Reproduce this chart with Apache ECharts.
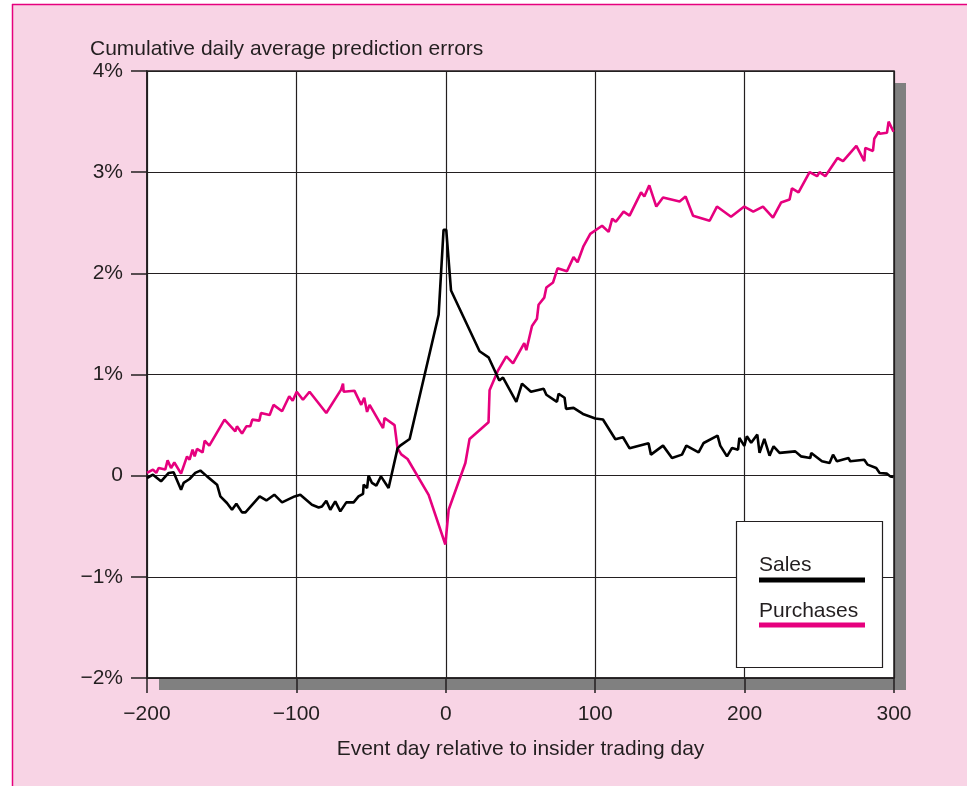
<!DOCTYPE html>
<html>
<head>
<meta charset="utf-8">
<script src="https://cdn.jsdelivr.net/npm/echarts@6/dist/echarts.min.js"></script>
<style>
html,body{margin:0;padding:0;background:#fff;}
#chart{width:967px;height:786px;}
</style>
</head>
<body>
<div id="chart"></div>
<script>
// ---- Data ----
const salesDays = [-200,-196,-190.6,-185.5,-182.2,-177.2,-175.5,-171.5,-167.7,-164.3,-159.8,-153.1,-150.9,-146.5,-143.1,-140.2,-136.4,-134.1,-124.6,-120.1,-114.8,-109.6,-101.2,-97.4,-89.6,-85.1,-82.9,-80,-77.3,-74,-70.6,-66.6,-61.7,-58.4,-55.4,-55,-52.7,-51.7,-49.4,-46.5,-43.4,-38.3,-32.3,-30.5,-24.2,-4.8,-1.5,0.3,3.5,22.6,28.6,35.8,38.3,47.2,51,57,65.5,67.3,74.4,75.5,79.5,80.5,85.5,91.8,100.1,105.2,113.5,118.6,123,135.7,137.3,145.4,151.4,158.1,161,169.2,172.6,181.9,183.7,188.2,191.6,195.6,196.5,199.8,201.5,204.4,208.5,210,213.2,216.7,219.4,223.4,233.9,237.7,244,244.6,251.8,256.9,259.2,261.8,269.6,270.7,280.1,282.3,288.1,290.4,295.3,297.5,299.7];
const salesValues = [-0.023,0.01,-0.056,0.027,0.033,-0.139,-0.072,-0.033,0.027,0.05,-0.007,-0.089,-0.205,-0.27,-0.337,-0.277,-0.363,-0.363,-0.205,-0.245,-0.188,-0.264,-0.205,-0.188,-0.287,-0.314,-0.304,-0.248,-0.337,-0.254,-0.353,-0.264,-0.264,-0.205,-0.181,-0.089,-0.122,0.0,-0.072,-0.099,-0.007,-0.122,0.27,0.297,0.363,1.59,2.43,2.43,1.83,1.23,1.17,0.94,0.97,0.73,0.91,0.83,0.86,0.80,0.73,0.81,0.77,0.66,0.67,0.61,0.565,0.555,0.36,0.38,0.27,0.32,0.208,0.297,0.175,0.208,0.297,0.231,0.323,0.396,0.297,0.191,0.274,0.257,0.373,0.295,0.39,0.325,0.406,0.225,0.363,0.198,0.29,0.225,0.24,0.191,0.175,0.225,0.142,0.125,0.208,0.142,0.175,0.142,0.158,0.109,0.076,0.027,0.02,-0.007,-0.013];

const purchDays = [-200,-196,-193.8,-192.2,-187.8,-186.2,-183.9,-181.7,-177.2,-173.2,-171.5,-169.5,-168.1,-166.5,-162.8,-161.4,-158.3,-148.1,-140.9,-139.8,-136.4,-133.5,-130.9,-129.5,-124.8,-123.7,-117.9,-115.3,-109.6,-104.8,-102.5,-99.8,-95.6,-91.2,-80,-70.1,-68.8,-68.4,-61.2,-56.6,-54.6,-52.7,-51,-42,-41,-34.3,-32.3,-29.8,-25.6,-11.5,-0.3,1.9,13.1,15.9,28.6,29.3,34.7,40.5,45,52.5,53.9,57.7,61,62.1,65.9,67.3,71.8,74.8,81.1,85.5,88.2,92.2,96.7,104.6,109,111.4,113.8,119,123,130.7,132.9,136.2,140.9,145.4,156.5,160.5,165.5,176.6,181.5,190.9,199.8,205.8,212.3,219,224.4,230.1,231.7,236.1,243.5,248.5,250.2,254,262.2,265.9,274.8,280.1,280.8,285.9,286.8,289.7,290.4,295.3,296.4,299.7];
const purchValues = [0.027,0.06,0.027,0.076,0.06,0.151,0.076,0.13,0.02,0.19,0.158,0.257,0.19,0.264,0.23,0.345,0.297,0.554,0.438,0.488,0.416,0.488,0.488,0.554,0.544,0.62,0.60,0.70,0.637,0.785,0.74,0.83,0.75,0.83,0.62,0.85,0.91,0.83,0.84,0.70,0.77,0.63,0.70,0.47,0.57,0.50,0.27,0.21,0.165,-0.19,-0.68,-0.337,0.125,0.363,0.528,0.845,1.033,1.18,1.11,1.31,1.24,1.48,1.55,1.69,1.76,1.86,1.91,2.05,2.02,2.16,2.11,2.27,2.39,2.47,2.41,2.54,2.51,2.61,2.57,2.80,2.76,2.87,2.66,2.75,2.71,2.76,2.57,2.52,2.66,2.56,2.66,2.61,2.66,2.55,2.70,2.73,2.84,2.80,3.00,2.96,3.00,2.96,3.14,3.11,3.26,3.11,3.24,3.21,3.33,3.40,3.38,3.39,3.50,3.40];

const xTickValues = [-200,-100,0,100,200,300];
const xTickLabels = ['\u2212200','\u2212100','0','100','200','300'];
const yTickValues = [-2,-1,0,1,2,3,4];
const yTickLabels = ['\u22122%','\u22121%','0','1%','2%','3%','4%'];

const seriesNames = ['Sales','Purchases'];
const titleText = 'Cumulative daily average prediction errors';
const xAxisName = 'Event day relative to insider trading day';

// ---- Chart ----
const FONT = '"Liberation Sans", Arial, Helvetica, sans-serif';
const FS = 21;
const TXT = '#231f20';
const PINK_BG = '#f8d4e5';
const MAGENTA = '#e6007e';

const salesData = salesDays.map((d,i)=>[d, salesValues[i]]);
const purchData = purchDays.map((d,i)=>[d, purchValues[i]]);

const chart = echarts.init(document.getElementById('chart'), null, {renderer:'canvas'});

const gridL = 147, gridT = 71, gridR = 894, gridB = 678;

chart.setOption({
  animation: false,
  backgroundColor: PINK_BG,
  textStyle: {fontFamily: FONT, color: TXT},
  title: {
    text: titleText,
    left: 85, top: 34,
    textStyle: {fontFamily: FONT, fontSize: FS, fontWeight: 'normal', color: TXT}
  },
  grid: {
    left: gridL, top: gridT, right: 967 - gridR, bottom: 786 - gridB,
    show: true, backgroundColor: '#ffffff', borderColor: TXT, borderWidth: 1.5, z: 2
  },
  xAxis: {
    type: 'value', min: -200, max: 300, interval: 100,
    name: xAxisName, nameLocation: 'middle', nameGap: 61,
    nameTextStyle: {fontFamily: FONT, fontSize: FS, color: TXT},
    axisLine: {show: true, onZero: false, lineStyle: {color: TXT, width: 1.5}},
    axisTick: {show: true, length: 15, inside: false, lineStyle: {color: TXT, width: 1.5}},
    axisLabel: {
      margin: 26, fontFamily: FONT, fontSize: FS, color: TXT,
      formatter: v => { const i = xTickValues.indexOf(v); return i >= 0 ? xTickLabels[i] : ''; }
    },
    splitLine: {show: true, lineStyle: {color: TXT, width: 1.2}},
    z: 6
  },
  yAxis: {
    type: 'value', min: -2, max: 4, interval: 1,
    axisLine: {show: true, onZero: false, lineStyle: {color: TXT, width: 1.5}},
    axisTick: {show: true, length: 16, inside: false, lineStyle: {color: TXT, width: 1.5}},
    axisLabel: {
      margin: 24, fontFamily: FONT, fontSize: FS, color: TXT, padding: [3, 0, 0, 0],
      formatter: v => { const i = yTickValues.indexOf(v); return i >= 0 ? yTickLabels[i] : ''; }
    },
    splitLine: {show: true, lineStyle: {color: TXT, width: 1.2}},
    z: 6
  },
  series: [
    {
      name: seriesNames[1], type: 'line', data: purchData, showSymbol: false, symbol: 'none',
      lineStyle: {color: MAGENTA, width: 2.6}, z: 7, clip: true
    },
    {
      name: seriesNames[0], type: 'line', data: salesData, showSymbol: false, symbol: 'none',
      lineStyle: {color: '#000000', width: 2.6}, z: 8, clip: true
    }
  ],
  graphic: [
    // outer white margin + magenta frame lines
    {type: 'rect', z: -10, silent: true, shape: {x: 0, y: 0, width: 967, height: 4}, style: {fill: '#ffffff'}},
    {type: 'rect', z: -10, silent: true, shape: {x: 0, y: 0, width: 12, height: 786}, style: {fill: '#ffffff'}},
    {type: 'line', z: -9, silent: true, shape: {x1: 12, y1: 4.5, x2: 967, y2: 4.5}, style: {stroke: MAGENTA, lineWidth: 1.5}},
    {type: 'line', z: -9, silent: true, shape: {x1: 12.5, y1: 4, x2: 12.5, y2: 786}, style: {stroke: MAGENTA, lineWidth: 1.5}},
    // drop shadow behind plot area
    {type: 'rect', z: 0, silent: true, shape: {x: gridL + 12, y: gridT + 12, width: gridR - gridL, height: gridB - gridT}, style: {fill: '#808080'}},
    // legend box
    {
      type: 'group', z: 50, silent: true,
      children: [
        {type: 'rect', z: 50, shape: {x: 736.5, y: 521.5, width: 146, height: 146}, style: {fill: '#ffffff', stroke: TXT, lineWidth: 1.2}},
        {type: 'text', z: 51, style: {x: 759, y: 565, text: seriesNames[0], font: FS + 'px ' + FONT, fill: TXT, verticalAlign: 'middle'}},
        {type: 'rect', z: 51, shape: {x: 759, y: 577.5, width: 106, height: 5}, style: {fill: '#000000'}},
        {type: 'text', z: 51, style: {x: 759, y: 611, text: seriesNames[1], font: FS + 'px ' + FONT, fill: TXT, verticalAlign: 'middle'}},
        {type: 'rect', z: 51, shape: {x: 759, y: 622.5, width: 106, height: 5}, style: {fill: MAGENTA}}
      ]
    }
  ]
});
</script>
</body>
</html>
